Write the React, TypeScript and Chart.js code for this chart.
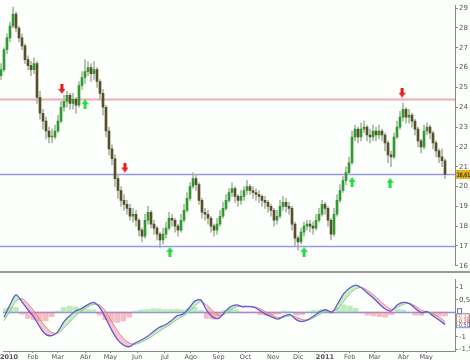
import React, { useEffect, useRef } from "react";
import { Chart, registerables } from "chart.js";
Chart.register(...registerables);

// ---------- DATA ----------
const monthTickIdx = [1.67, 9.67, 18, 27.33, 35.67, 44.67, 54, 62.67, 72, 81, 90.33, 98.67, 107.67, 116, 124.33, 134, 141.67];
const monthLabels = ["2010", "Feb", "Mar", "Abr", "May", "Jun", "Jul", "Ago", "Sep", "Oct", "Nov", "Dic", "2011", "Feb", "Mar", "Abr", "May"];

const firstOpen = 25.6;
const closes = [
  25.9, 26.9, 27.5, 28.1, 28.7, 28.0, 27.5, 27.1, 26.4, 26.1,
  25.9, 26.2, 24.5, 23.7, 23.3, 22.8, 22.5, 22.5, 22.8, 23.3,
  24.0, 24.3, 24.6, 24.2, 24.4, 24.1, 25.1, 25.5, 25.8, 26.0,
  25.7, 25.9, 25.3, 24.7, 24.0, 22.8, 21.9, 21.4, 20.4, 19.8,
  19.3, 19.1, 18.9, 18.5, 18.6, 18.3, 17.8, 17.5, 18.3, 18.7,
  18.1, 17.9, 17.6, 17.3, 17.6, 17.9, 18.4, 18.3, 18.0, 17.8,
  18.3, 18.8, 19.4, 20.0, 20.4, 20.1, 19.3, 18.7, 18.6, 18.4,
  18.0, 17.8, 18.1, 18.5, 18.9, 19.3, 19.7, 19.9, 19.5, 19.3,
  19.5, 19.8, 20.0, 19.8, 19.7, 19.6, 19.5, 19.3, 19.2, 19.0,
  18.8, 18.3, 18.5, 19.0, 19.2, 19.0, 18.9, 18.1, 17.4, 17.2,
  17.7, 18.0, 18.1, 18.0, 17.9, 18.3, 18.6, 19.1, 18.9, 18.3,
  17.6, 18.6, 19.3, 19.8, 20.3, 20.7, 21.2, 22.5, 22.9, 22.5,
  22.9, 23.0, 22.6, 22.5, 22.8, 22.6, 22.8, 22.6, 22.2, 21.6,
  21.5, 22.5, 23.0, 23.5, 23.9, 23.5, 23.6, 23.3, 22.9, 22.3,
  22.0, 22.8, 23.0, 22.7, 22.2, 21.8, 21.5, 21.3, 20.61,
];
const highs = [
  26.2, 27.0, 27.7, 28.3, 29.05, 28.8, 28.1, 27.7, 27.2, 26.6,
  26.3, 26.5, 26.3, 24.8, 23.9, 23.5, 23.0, 22.9, 23.1, 23.6,
  24.3, 24.6, 24.8, 24.7, 24.7, 24.5, 25.3, 25.8, 26.4, 26.3,
  26.2, 26.3, 26.0, 25.4, 24.9, 24.1, 23.0, 22.1, 21.6, 20.6,
  20.0, 19.6, 19.3, 19.1, 18.9, 18.8, 18.4, 17.9, 18.6, 19.0,
  18.8, 18.3, 18.0, 17.7, 17.9, 18.2, 18.7, 18.6, 18.4, 18.1,
  18.6, 19.1, 19.7, 20.2, 20.7, 20.6, 20.2, 19.4, 18.9, 18.8,
  18.5, 18.1, 18.4, 18.8, 19.2, 19.6, 19.9, 20.2, 20.0, 19.6,
  19.8, 20.0, 20.3, 20.1, 20.0, 19.9, 19.8, 19.6, 19.5, 19.3,
  19.1, 18.9, 18.8, 19.3, 19.5, 19.4, 19.2, 19.0, 18.2, 17.5,
  17.9, 18.2, 18.3, 18.3, 18.2, 18.6, 18.9, 19.3, 19.2, 19.0,
  18.4, 18.9, 19.6, 20.1, 20.5, 21.0, 21.5, 22.8, 23.1, 23.0,
  23.2, 23.3, 23.1, 22.9, 23.1, 23.0, 23.1, 22.9, 22.7, 22.3,
  21.8, 22.7, 23.3, 23.8, 24.2, 24.0, 23.9, 23.7, 23.4, 23.0,
  22.4, 23.1, 23.2, 23.1, 22.8, 22.3, 21.9, 21.9, 21.4,
];
const lows = [
  25.4, 25.8, 26.7, 27.3, 28.0, 27.8, 27.3, 26.9, 26.2, 25.9,
  25.6, 25.7, 24.2, 23.4, 22.9, 22.4, 22.2, 22.2, 22.4, 22.7,
  23.2, 23.8, 24.0, 23.9, 23.9, 23.7, 24.0, 24.9, 25.2, 25.6,
  25.3, 25.4, 25.0, 24.4, 23.6, 22.5, 21.6, 21.1, 20.0, 19.4,
  19.0, 18.8, 18.6, 18.3, 18.2, 18.0, 17.5, 17.2, 17.4, 18.1,
  17.9, 17.6, 17.3, 16.9, 17.1, 17.4, 17.8, 18.0, 17.7, 17.5,
  17.7, 18.2, 18.7, 19.3, 19.9, 19.8, 19.1, 18.4, 18.3, 18.1,
  17.7, 17.5, 17.6, 18.0, 18.4, 18.8, 19.2, 19.5, 19.2, 19.0,
  19.1, 19.3, 19.6, 19.6, 19.4, 19.3, 19.2, 19.0, 18.9, 18.7,
  18.5, 18.0, 18.1, 18.4, 18.8, 18.7, 18.6, 17.8, 17.0, 16.8,
  17.1, 17.5, 17.8, 17.7, 17.6, 17.8, 18.2, 18.5, 18.6, 18.0,
  17.3, 17.5, 18.5, 19.2, 19.7, 20.1, 20.6, 21.1, 22.3, 22.2,
  22.3, 22.7, 22.3, 22.2, 22.3, 22.3, 22.4, 22.3, 21.8, 21.2,
  21.0, 21.4, 22.4, 22.9, 23.3, 23.2, 23.2, 23.0, 22.6, 22.0,
  21.7, 21.9, 22.6, 22.4, 21.9, 21.5, 21.2, 21.0, 20.4,
];

const priceTicks = [16, 17, 18, 19, 20, 21, 22, 23, 24, 25, 26, 27, 28, 29];
const resistanceLevels = [24.4];
const supportLevels = [20.61, 17.0];
const lastPriceLabel = "20,61";

const sellArrowIdx = [20.3, 41.3, 133.7];
const sellArrowPrice = [24.93, 20.96, 24.74];
const buyArrowIdx = [28, 56.3, 101, 117, 129.7];
const buyArrowPrice = [24.16, 16.7, 16.7, 20.23, 20.19];

// MACD sampled every 2 bars (index 0, 2, 4 ... 148)
const macdLine = [
  -0.2, 0.3, 0.7, 0.42, 0.1, -0.2, -0.6, -0.9, -0.95, -0.8,
  -0.4, -0.15, 0.05, 0.15, 0.3, 0.4, 0.2, -0.22, -0.7, -1.1,
  -1.33, -1.4, -1.25, -1.13, -1.0, -0.8, -0.62, -0.52, -0.36, -0.15,
  -0.08, 0.15, 0.45, 0.5, 0.07, -0.2, -0.25, 0.0, 0.22, 0.3,
  0.22, 0.23, 0.2, 0.05, -0.1, -0.2, -0.28, -0.15, -0.1, -0.3,
  -0.38, -0.3, -0.15, 0.02, 0.1, 0.0, 0.35, 0.75, 0.98, 1.1,
  0.98, 0.77, 0.57, 0.33, 0.12, 0.05, 0.3, 0.4, 0.35, 0.15,
  -0.02, 0.02, -0.15, -0.32, -0.5,
];
const signalLine = [
  -0.35, 0.05, 0.45, 0.55, 0.35, 0.05, -0.3, -0.6, -0.82, -0.85,
  -0.65, -0.4, -0.15, 0.05, 0.2, 0.32, 0.3, 0.05, -0.35, -0.75,
  -1.05, -1.25, -1.3, -1.22, -1.1, -0.95, -0.78, -0.63, -0.48, -0.3,
  -0.17, 0.0, 0.25, 0.42, 0.3, 0.05, -0.12, -0.08, 0.08, 0.22,
  0.25, 0.24, 0.22, 0.13, 0.0, -0.12, -0.22, -0.2, -0.14, -0.2,
  -0.3, -0.32, -0.22, -0.08, 0.04, 0.04, 0.15, 0.45, 0.75, 0.95,
  1.0, 0.88, 0.7, 0.48, 0.27, 0.12, 0.2, 0.32, 0.36, 0.25,
  0.08, 0.02, -0.06, -0.2, -0.38,
];
const macdHist = [
  0.15, 0.2, 0.2, -0.08, -0.25, -0.3, -0.35, -0.35, -0.18, 0.05,
  0.2, 0.25, 0.22, 0.14, 0.12, 0.1, -0.12, -0.3, -0.4, -0.42,
  -0.35, -0.2, 0.05, 0.1, 0.12, 0.15, 0.14, 0.12, 0.12, 0.13,
  0.1, 0.15, 0.2, 0.08, -0.25, -0.28, -0.15, 0.08, 0.15, 0.1,
  -0.03, -0.01, -0.02, -0.1, -0.12, -0.1, -0.08, 0.05, 0.04, -0.12,
  -0.1, 0.02, 0.08, 0.1, 0.06, -0.04, 0.2, 0.3, 0.25, 0.16,
  -0.03, -0.12, -0.15, -0.18, -0.2, -0.1, 0.12, 0.1, 0.0, -0.12,
  -0.13, 0.0, -0.1, -0.15, -0.15,
];
const macdTicks = [1, 0.5, -1, -1.5];
const macdLegendValues = ["-0,32", "-0,38", "-0,50"];

// ---------- STYLE ----------
const FONT = "DejaVu Sans";
const BG = "#fdfffd";
const X_MIN = -1 / 3;
const X_MAX = 151.33;

function fmt(v: number) {
  return String(v).replace(".", ",");
}

function makeArrow(color: string, down: boolean) {
  const c = document.createElement("canvas");
  c.width = 7;
  c.height = 10;
  const g = c.getContext("2d")!;
  g.fillStyle = color;
  if (down) {
    g.fillRect(2, 0, 3, 5);
    g.beginPath();
    g.moveTo(0, 5);
    g.lineTo(7, 5);
    g.lineTo(3.5, 10);
    g.closePath();
    g.fill();
  } else {
    g.fillRect(2, 5, 3, 5);
    g.beginPath();
    g.moveTo(0, 5);
    g.lineTo(7, 5);
    g.lineTo(3.5, 0);
    g.closePath();
    g.fill();
  }
  return c;
}

const levelPlugin = {
  id: "levels",
  beforeDatasetsDraw(chart: any, _a: any, opts: any) {
    const { ctx, chartArea } = chart;
    const y = chart.scales.y;
    (opts.lines || []).forEach((l: any) => {
      const py = Math.round(y.getPixelForValue(l.value)) + 0.5;
      ctx.save();
      ctx.strokeStyle = l.color;
      ctx.lineWidth = l.width;
      ctx.beginPath();
      ctx.moveTo(chartArea.left, py);
      ctx.lineTo(chartArea.right, py);
      ctx.stroke();
      ctx.restore();
    });
  },
};

const priceTagPlugin = {
  id: "priceTag",
  afterDraw(chart: any, _a: any, opts: any) {
    if (!opts.text) return;
    const { ctx, chartArea } = chart;
    const py = chart.scales.y.getPixelForValue(opts.value);
    ctx.save();
    ctx.fillStyle = "#e6b414";
    ctx.fillRect(chartArea.right + 1, py - 4.5, 14, 9);
    ctx.fillStyle = "#333";
    ctx.font = `bold 6px ${FONT}`;
    ctx.textBaseline = "middle";
    ctx.fillText(opts.text, chartArea.right + 2, py + 0.5, 13);
    ctx.restore();
  },
};

const macdLegendPlugin = {
  id: "macdLegend",
  afterDraw(chart: any, _a: any, opts: any) {
    if (!opts.values) return;
    const { ctx, chartArea } = chart;
    const y0 = chart.scales.y.getPixelForValue(0);
    const x0 = chartArea.right + 1;
    ctx.save();
    ctx.fillStyle = BG;
    ctx.fillRect(x0, y0 - 4, 14, 20);
    ctx.strokeStyle = "#6b6bd6";
    ctx.lineWidth = 1;
    ctx.strokeRect(x0 + 1.5, y0 - 3.5, 4, 5);
    ctx.strokeStyle = "#999";
    ctx.strokeRect(x0 + 0.5, y0 + 1.5, 13, 14);
    ctx.font = `6px ${FONT}`;
    ctx.textBaseline = "middle";
    const cols = ["#e07a8a", "#d04040", "#5050c8"];
    opts.values.forEach((t: string, i: number) => {
      ctx.fillStyle = cols[i];
      ctx.fillText(t, x0 + 1, y0 + 4.5 + i * 4.5, 13);
    });
    ctx.restore();
  },
};

export default function App() {
  const priceRef = useRef<HTMLCanvasElement>(null);
  const macdRef = useRef<HTMLCanvasElement>(null);

  useEffect(() => {
    const opens = closes.map((_, i) => (i === 0 ? firstOpen : closes[i - 1]));
    const wickData = closes.map((_, i) => ({ x: i, y: [lows[i], highs[i]] }));
    const bodyData = closes.map((c, i) => ({ x: i, y: [opens[i], c] }));
    const bodyColors = closes.map((c, i) => (c >= opens[i] ? "#2f9a2f" : "#5a4e2a"));
    const downImg = makeArrow("#e51c1c", true);
    const upImg = makeArrow("#22dd44", false);

    const yAxisCommon = {
      position: "right" as const,
      ticks: { font: { size: 7, family: FONT }, color: "#555", padding: 1 },
      grid: { drawOnChartArea: false, tickLength: 3, color: "#888" },
      border: { color: "#888" },
    };

    const priceChart = new Chart(priceRef.current!, {
      type: "bar",
      data: {
        datasets: [
          {
            type: "scatter",
            data: sellArrowIdx.map((x, i) => ({ x, y: sellArrowPrice[i] })),
            pointStyle: downImg,
            order: 0,
          } as any,
          {
            type: "scatter",
            data: buyArrowIdx.map((x, i) => ({ x, y: buyArrowPrice[i] })),
            pointStyle: upImg,
            order: 0,
          } as any,
          {
            data: wickData,
            backgroundColor: "#a9b8a2",
            barThickness: 1,
            grouped: false,
            order: 3,
          } as any,
          {
            data: bodyData,
            backgroundColor: bodyColors,
            barThickness: 2,
            grouped: false,
            minBarLength: 1,
            order: 2,
          } as any,
        ],
      },
      options: {
        responsive: false,
        devicePixelRatio: 1,
        animation: false,
        layout: { padding: 0, autoPadding: false },
        plugins: {
          legend: { display: false },
          tooltip: { enabled: false },
          levels: {
            lines: [
              ...resistanceLevels.map((v) => ({ value: v, color: "#f4a9b3", width: 2 })),
              ...supportLevels.map((v) => ({ value: v, color: "#9a98e2", width: 1.5 })),
            ],
          },
          priceTag: { value: closes[closes.length - 1], text: lastPriceLabel },
        } as any,
        scales: {
          x: { type: "linear", display: false, min: X_MIN, max: X_MAX, offset: false, grid: { offset: false } } as any,
          y: {
            ...yAxisCommon,
            min: 16,
            max: 29.15,
            afterFit: (s: any) => { s.width = 15; },
            afterBuildTicks: (s: any) => { s.ticks = priceTicks.map((v) => ({ value: v })); },
            ticks: { ...yAxisCommon.ticks, callback: (v: any) => String(v) },
          } as any,
        },
      },
      plugins: [levelPlugin, priceTagPlugin],
    });

    const mx = macdLine.map((_, k) => k * 2);
    const macdChart = new Chart(macdRef.current!, {
      type: "line",
      data: {
        datasets: [
          {
            type: "bar",
            data: macdHist.map((v, k) => ({ x: mx[k], y: v })),
            backgroundColor: macdHist.map((v) => (v >= 0 ? "rgba(130,215,130,0.5)" : "rgba(235,125,140,0.5)")),
            barThickness: 5,
            order: 4,
          } as any,
          {
            data: macdLine.map((v, k) => ({ x: mx[k], y: v })),
            borderColor: "#6459d4",
            borderWidth: 1.3,
            pointRadius: 0,
            tension: 0.3,
            fill: { target: 2, above: "rgba(150,228,150,0.55)", below: "rgba(240,150,165,0.55)" },
            order: 1,
          } as any,
          {
            data: signalLine.map((v, k) => ({ x: mx[k], y: v })),
            borderColor: "#80c880",
            borderWidth: 1,
            pointRadius: 0,
            tension: 0.3,
            segment: {
              borderColor: (c: any) => (macdLine[c.p0DataIndex] >= signalLine[c.p0DataIndex] ? "#7cc87c" : "#e07686"),
            },
            order: 2,
          } as any,
        ],
      },
      options: {
        responsive: false,
        devicePixelRatio: 1,
        animation: false,
        layout: { padding: 0, autoPadding: false },
        plugins: {
          legend: { display: false },
          tooltip: { enabled: false },
          filler: { propagate: false },
          levels: { lines: [{ value: 0, color: "#8c8ce6", width: 1.5 }] },
          macdLegend: { values: macdLegendValues },
        } as any,
        scales: {
          x: {
            type: "linear",
            min: X_MIN,
            max: X_MAX,
            offset: false,
            afterFit: (s: any) => { s.height = 9; },
            afterBuildTicks: (s: any) => { s.ticks = monthTickIdx.map((v) => ({ value: v })); },
            ticks: {
              padding: 0,
              color: "#555",
              maxRotation: 0,
              autoSkip: false,
              font: (c: any) => ({
                size: 6.5,
                family: FONT,
                weight: /^\d{4}$/.test(String(c.tick?.label)) ? "bold" : "normal",
              }),
              callback: (v: any) => {
                const i = monthTickIdx.indexOf(Number(v));
                return i >= 0 ? monthLabels[i] : "";
              },
            },
            grid: { drawOnChartArea: false, tickLength: 2, color: "#888", offset: false },
            border: { color: "#888" },
          } as any,
          y: {
            ...yAxisCommon,
            min: -1.576,
            max: 1.34,
            afterFit: (s: any) => { s.width = 15; },
            afterBuildTicks: (s: any) => { s.ticks = macdTicks.map((v) => ({ value: v })); },
            ticks: { ...yAxisCommon.ticks, callback: (v: any) => fmt(Number(v)) },
          } as any,
        },
      },
      plugins: [levelPlugin, macdLegendPlugin],
    });

    return () => {
      priceChart.destroy();
      macdChart.destroy();
    };
  }, []);

  return (
    <div style={{ position: "fixed", left: 0, top: 0, width: 470, height: 360, background: BG, overflow: "hidden" }}>
      <canvas ref={priceRef} width={470} height={271} style={{ position: "absolute", left: 0, top: 0 }} />
      <div style={{ position: "absolute", left: 0, top: 271, width: 470, height: 2, background: "#9a9a9a" }} />
      <canvas ref={macdRef} width={470} height={86} style={{ position: "absolute", left: 0, top: 274 }} />
    </div>
  );
}
